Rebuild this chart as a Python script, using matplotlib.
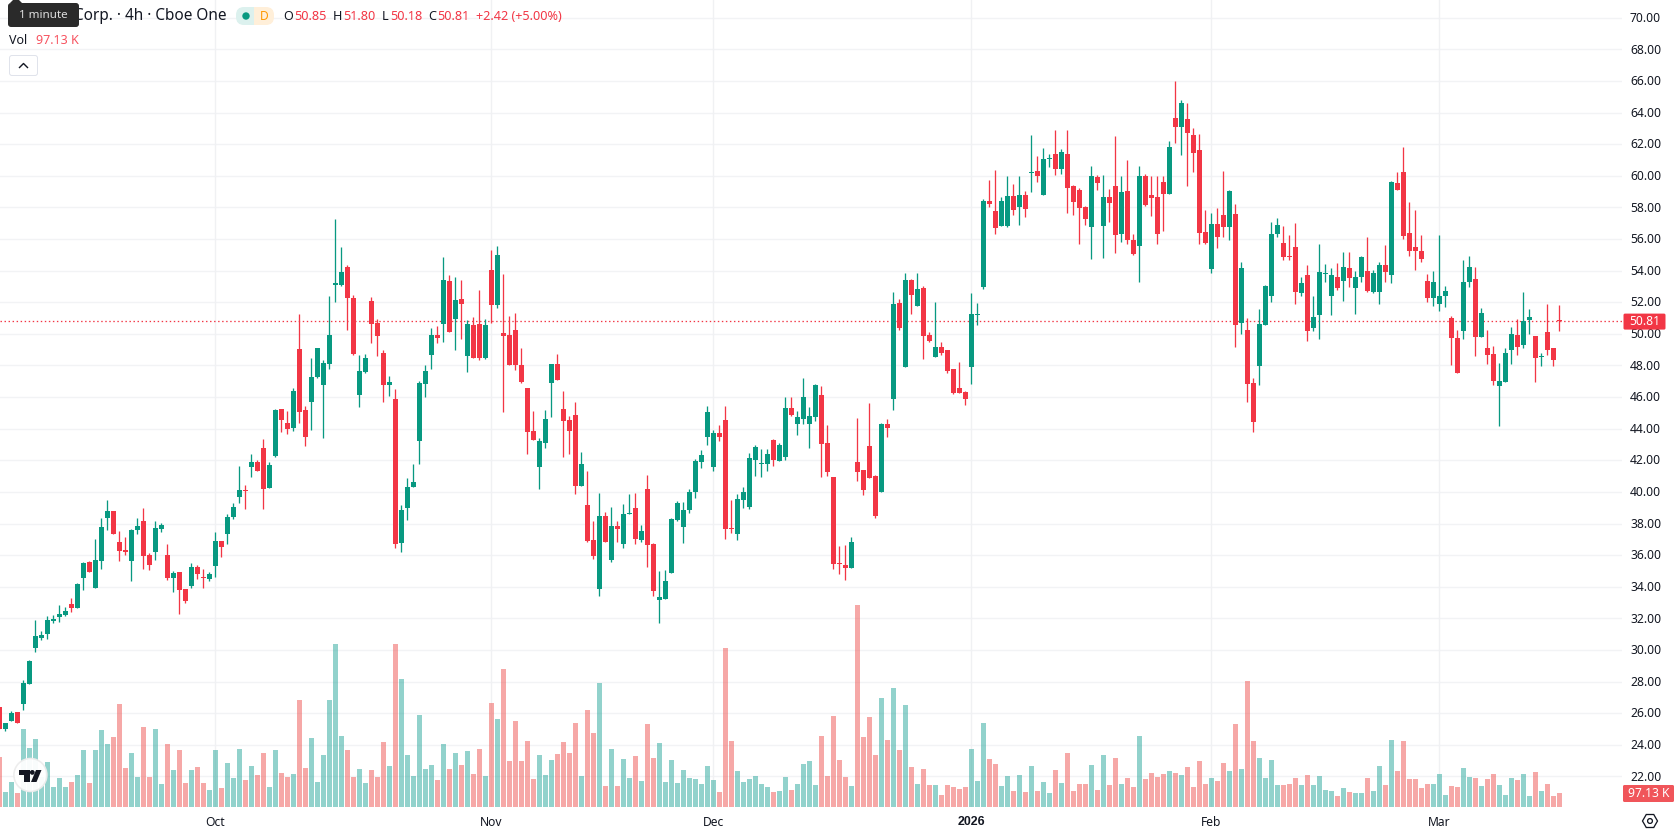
import numpy as np
import matplotlib
matplotlib.use('Agg')
import matplotlib.pyplot as plt
from matplotlib.patches import FancyBboxPatch, Circle, Polygon, RegularPolygon, Rectangle

opens = [26.38,24.99,25.50,26.06,26.58,27.85,30.13,30.74,31.01,31.83,
32.07,32.21,32.91,32.66,34.56,35.55,33.92,35.62,38.36,38.79,
36.82,36.32,35.62,37.59,38.15,36.0,36.18,37.66,36.0,34.56,
34.92,33.86,34.04,35.24,34.6,34.49,35.31,36.89,37.34,38.40,
39.67,40.12,41.57,41.88,42.79,40.26,42.27,45.25,44.37,44.05,
49.05,45.18,45.68,47.26,46.77,48.10,53.12,53.09,54.23,52.28,
46.13,47.56,52.08,50.70,48.80,46.77,45.88,36.77,38.99,40.30,
43.21,46.82,48.65,49.92,50.62,53.34,50.93,52.2,48.59,50.55,
50.62,48.46,54.03,51.82,50.05,49.92,50.24,48.02,46.56,43.84,
41.57,43.08,46.88,48.08,45.24,44.54,44.86,40.36,39.16,36.95,
33.84,38.46,35.68,37.83,36.69,38.59,38.97,36.95,40.17,36.69,
33.15,33.21,34.86,38.21,37.77,38.84,39.98,41.88,43.46,41.57,
43.72,44.54,37.70,37.32,39.48,39.03,42.01,41.75,41.75,43.27,
41.94,42.2,45.3,44.29,44.6,44.29,44.73,46.15,43.11,40.96,
35.52,35.39,35.2,41.91,41.4,42.92,41.02,40.01,44.31,45.9,
51.97,47.92,53.43,51.78,52.92,49.95,48.55,49.19,48.99,47.79,
46.59,46.34,47.92,51.21,52.98,58.43,57.79,56.84,56.84,58.74,
58.05,58.81,60.2,60.32,58.81,61.08,61.4,60.45,61.4,59.38,
59.12,58.05,56.78,59.95,56.84,58.68,59.38,56.34,59.06,55.96,
55.58,60.0,58.81,58.68,59.63,58.87,63.68,63.11,63.62,62.6,
61.65,56.46,54.12,56.97,57.52,56.76,57.58,50.69,50.24,46.89,
47.96,50.56,52.39,56.32,55.75,54.93,55.5,52.58,53.72,50.37,
51.19,53.79,52.39,53.6,53.34,54.17,52.9,53.6,53.98,52.65,
52.65,54.36,53.72,59.55,60.24,56.38,55.5,55.24,53.34,52.27,
51.89,52.39,51.0,49.74,50.18,53.28,53.47,49.8,49.1,48.72,
46.7,46.95,48.98,49.93,49.29,50.88,49.86,48.53,50.12,49.1,50.85]

closes = [25.0,25.36,25.99,25.38,27.91,29.29,30.87,30.94,31.89,31.96,
32.28,32.46,32.66,34.18,35.51,34.92,35.69,37.77,38.79,37.34,
36.25,36.18,37.59,37.84,35.94,35.37,37.72,37.91,34.56,34.88,
33.79,33.09,35.24,34.81,34.56,34.81,36.89,36.5,38.40,39.04,
40.12,40.05,41.88,41.32,40.19,41.70,45.18,44.55,43.99,46.38,
45.05,43.47,47.26,49.12,48.17,49.93,53.16,53.91,52.28,48.73,
47.65,48.48,50.63,49.86,46.77,46.95,36.71,38.85,40.30,40.62,
46.88,47.64,49.92,49.73,53.40,50.11,52.13,51.88,50.62,48.46,
48.46,50.55,51.82,54.98,49.86,48.02,48.02,46.95,43.78,43.27,
43.21,44.60,48.08,47.07,44.48,43.84,40.36,41.75,36.88,35.93,
38.46,36.82,37.83,37.64,38.59,38.65,37.01,37.51,36.63,33.72,
33.34,34.35,38.27,39.29,38.84,39.98,41.94,42.32,45.05,43.72,
43.46,37.64,37.64,39.54,39.98,42.13,42.83,41.82,42.39,42.01,
42.96,45.3,44.86,44.73,46.0,44.79,46.75,43.05,41.27,35.45,
35.45,35.2,36.84,41.27,40.13,40.89,38.49,44.31,44.06,51.91,
50.39,53.43,52.48,52.86,49.88,49.57,49.19,48.81,47.67,46.27,
46.27,45.89,51.27,51.27,58.43,58.24,56.72,58.43,58.74,57.86,
58.81,57.92,60.26,60.01,61.08,61.15,60.45,61.53,59.25,58.36,
57.98,57.29,60.0,59.57,58.68,58.3,56.27,59.0,55.96,55.07,
60.0,58.17,58.62,56.34,58.87,61.84,63.11,64.63,62.73,61.46,
56.4,55.77,56.97,56.15,56.76,59.04,50.56,54.17,46.83,44.42,
50.62,53.03,56.32,56.89,54.86,54.86,52.65,53.22,50.18,51.07,
53.91,53.85,53.72,52.9,54.23,53.53,53.6,54.86,52.71,53.85,
54.36,53.91,59.61,59.1,56.19,55.24,55.24,54.74,52.27,53.28,
52.39,52.71,49.74,47.52,53.28,54.23,49.8,51.32,48.66,47.02,
47.02,48.79,49.99,49.17,50.81,51.07,48.47,48.6,48.98,48.34,50.81]

highs = [26.38,25.36,26.13,26.06,28.09,29.36,31.89,31.19,32.14,32.21,
32.84,32.70,33.29,34.24,35.55,35.62,37.02,38.36,39.49,38.79,
37.52,37.13,37.66,38.36,38.99,36.16,38.15,38.02,36.71,34.99,
34.92,33.86,35.49,35.37,35.12,34.92,37.45,36.89,38.58,39.28,
41.63,40.44,42.40,42.02,43.33,41.88,45.25,45.25,45.11,46.59,
51.24,45.43,48.48,49.12,48.35,52.39,57.28,55.49,54.36,52.46,
48.67,48.73,52.33,50.95,48.98,47.33,46.52,39.2,40.89,41.75,
47.0,48.02,50.36,50.49,54.86,53.72,53.59,53.40,50.87,51.06,
52.77,50.93,55.3,55.55,53.78,51.12,51.31,49.1,46.56,45.11,
43.40,45.17,48.08,48.72,46.37,44.79,45.68,42.51,41.31,38.15,
39.92,38.72,39.03,38.15,39.22,39.86,39.92,37.89,41.06,36.75,
34.98,35.05,38.34,39.41,39.35,40.17,42.07,42.64,45.43,43.91,
44.22,45.43,39.48,39.86,40.3,42.45,42.96,42.7,42.7,43.34,
43.08,46.0,46.0,45.11,47.2,45.36,46.82,46.72,44.25,40.96,
36.59,36.65,37.16,44.69,41.4,45.64,41.08,44.38,44.63,52.67,
52.22,53.87,53.49,53.87,53.05,50.14,52.03,49.5,48.99,47.79,
48.24,46.4,52.6,51.97,58.55,59.76,60.39,58.68,60.0,59.5,
60.0,59.06,62.6,61.27,61.78,61.4,62.92,61.72,62.92,59.44,
59.25,58.11,60.64,60.07,60.07,59.19,62.54,60.0,61.02,56.34,
60.64,60.14,60.0,60.0,60.0,62.22,66.02,64.82,64.63,63.05,
62.67,57.86,57.67,57.98,60.31,59.1,58.22,54.55,51.0,47.2,
51.57,53.09,57.08,57.33,56.83,56.26,57.02,53.6,54.36,52.39,
55.69,54.42,54.17,54.48,55.18,55.18,53.98,54.93,56.13,54.04,
54.55,55.62,59.67,60.24,61.83,58.34,57.84,56.26,53.79,53.98,
56.26,53.03,51.13,50.24,54.67,54.93,54.23,51.64,50.24,49.23,
48.15,49.1,50.43,50.94,52.65,51.57,49.86,48.79,51.89,49.1,51.80]

lows = [25.0,24.86,25.50,25.38,26.2,27.85,29.86,30.63,30.69,31.71,
31.76,32.14,32.39,32.66,33.79,34.92,33.92,35.12,37.59,37.34,
35.62,36.0,34.36,37.34,35.12,35.06,35.69,37.45,34.42,33.68,
32.28,32.97,33.92,34.49,33.92,34.36,34.6,35.87,36.71,38.29,
39.31,38.92,40.93,41.32,38.92,40.26,42.18,43.78,43.67,43.85,
44.37,42.9,43.92,47.22,43.44,47.78,52.01,53.03,50.25,48.67,
45.37,47.51,49.43,48.60,45.68,46.06,36.46,36.19,38.22,40.30,
41.75,45.99,47.77,49.41,49.48,50.11,48.97,49.67,47.58,48.46,
48.34,48.40,50.68,51.63,45.05,48.02,47.7,46.88,42.4,43.27,
40.17,42.77,44.73,47.07,42.2,42.4,39.86,40.36,36.82,35.74,
33.4,36.82,35.55,36.82,36.44,38.59,36.69,36.82,35.24,33.4,
31.69,33.21,34.86,38.15,36.75,38.65,39.6,41.5,42.96,41.31,
43.21,37.01,37.39,36.95,38.97,38.91,41.0,40.93,41.31,41.63,
41.94,42.01,44.79,43.59,44.29,42.77,44.48,40.96,41.02,35.13,
34.82,34.44,35.2,40.7,39.82,40.89,38.36,40.01,43.49,45.2,
50.26,47.92,51.27,51.78,48.43,49.5,48.55,48.68,47.54,46.21,
46.27,45.51,46.84,50.58,52.86,58.05,56.34,56.84,56.78,57.54,
56.91,57.41,58.99,59.63,58.81,60.58,60.07,60.14,57.67,57.54,
55.7,56.91,54.75,59.12,54.82,57.1,55.13,55.83,55.7,55.01,
53.3,58.11,57.48,55.7,56.53,58.87,62.1,61.34,59.38,60.26,
55.7,55.7,53.87,55.45,56.13,55.94,49.17,49.99,45.69,43.79,
46.76,50.56,52.01,56.13,54.67,54.67,51.89,52.39,49.55,50.18,
49.67,53.28,51.19,52.77,52.08,52.96,51.26,53.28,52.65,52.58,
51.89,53.28,53.22,59.1,56.0,54.93,54.04,54.55,52.01,51.76,
51.45,51.7,48.03,47.52,49.67,52.96,48.6,49.8,48.09,46.76,
44.17,46.95,48.09,48.66,49.1,49.99,46.95,47.96,48.66,47.96,50.18]

volumes = [347,104,173,97,541,409,472,210,312,139,201,139,173,222,395,167,395,534,437,486,
715,271,375,208,555,208,541,160,437,257,395,167,257,278,167,118,395,132,305,201,
402,187,284,222,375,139,395,236,208,229,742,271,479,173,361,742,1131,493,395,208,
264,167,257,208,451,284,1131,888,361,215,638,264,291,187,437,264,375,291,389,229,
402,215,722,611,957,319,597,319,458,194,361,222,326,368,
451,375,583,215,673,513,860,146,402,146,333,201,354,180,576,340,444,173,326,167,
257,201,194,160,284,187,104,1103,458,250,173,194,215,160,139,104,111,208,118,160,
298,319,153,493,215,631,326,208,146,1401,486,624,361,756,465,826,395,708,278,160,
264,153,153,83,153,139,125,139,402,180,583,333,298,146,215,111,222,104,284,111,
173,97,257,167,375,111,160,160,291,118,361,153,340,
160,201,139,493,194,236,208,229,250,236,222,278,139,319,160,201,180,305,250,576,
264,874,458,340,201,326,153,153,160,201,153,222,153,215,118,111,76,132,104,97,
97,201,111,284,153,465,250,458,194,194,132,160,160,229,83,146,139,271,208,201,
146,194,229,153,83,201,187,229,76,243,111,160,76,97.13]

price_ticks = list(range(22, 72, 2))
month_ticks = [36, 82, 119, 162, 202, 240]
month_labels = ['Oct', 'Nov', 'Dec', '2026', 'Feb', 'Mar']
last_close = closes[-1]
last_volume = volumes[-1]

GREEN = '#089981'
RED = '#F23645'
VOL_GREEN = '#26a69a'
VOL_RED = '#ef5350'
GRID = '#f2f3f5'
TEXT = '#131722'

plt.rcParams['font.family'] = ['Noto Sans', 'DejaVu Sans']

W, H = 1678, 835
PANE_W, PANE_H = 1622, 807
fig = plt.figure(figsize=(W / 100, H / 100), dpi=100, facecolor='white')
px = 0.72  # one screen pixel in points

# volume pane sits behind the candles and shares the same area
rect = [0, 1 - PANE_H / H, PANE_W / W, PANE_H / H]
axV = fig.add_axes(rect, zorder=1)
ax = fig.add_axes(rect, zorder=2)
ax.patch.set_alpha(0)
for a in (ax, axV):
    a.set_xlim(0.11, 270.44)
    a.set_xticks([])
    a.set_yticks([])
    for s in a.spines.values():
        s.set_visible(False)
ax.set_ylim(20.06, 71.13)
axV.set_ylim(0, 5597)

o = np.array(opens)
c = np.array(closes)
h = np.array(highs)
l = np.array(lows)
v = np.array(volumes)
x = np.arange(len(o))
up = c >= o

# grid is drawn on the lower axes so volume bars tint over it
for t in price_ticks:
    axV.axhline((t - 20.06) / (71.13 - 20.06) * 5597, color=GRID, lw=1.4 * px, zorder=0)
for t in month_ticks:
    axV.axvline(t, color='#f0f1f3', lw=1.4 * px, zorder=0)

axV.bar(x[up], v[up], width=5 / 6, color=VOL_GREEN, alpha=0.5, linewidth=0, zorder=1)
axV.bar(x[~up], v[~up], width=5 / 6, color=VOL_RED, alpha=0.5, linewidth=0, zorder=1)

colors = np.where(up, GREEN, RED)
ax.vlines(x, l, h, colors=colors, lw=1.3 * px, zorder=3)
min_body = 1.1 / 15.8
body_low = np.minimum(o, c)
body_h = np.maximum(np.abs(c - o), min_body)
ax.bar(x, body_h, bottom=body_low, width=5 / 6, color=colors, linewidth=0, zorder=4)

ax.axhline(last_close, color=RED, lw=1.3 * px, linestyle=(0, (1.1, 2.0)), zorder=2)

# overlay in screen pixels for the axis text and toolbar bits
ui = fig.add_axes([0, 0, 1, 1], zorder=5)
ui.set_xlim(0, W)
ui.set_ylim(H, 0)
ui.axis('off')
ui.patch.set_alpha(0)


def price_y(p):
    return 112.7 + (64 - p) * 15.8


for t in price_ticks:
    ui.text(1630, price_y(t) + 0.7, f'{t:.2f}', fontsize=8.7, color=TEXT, va='center', ha='left')

for t, lab in zip(month_ticks, month_labels):
    if lab == '2026':
        ui.text(-0.67 + 6 * t, 822, lab, fontsize=8.9, color=TEXT, va='center', ha='center',
                fontweight='bold', family='Liberation Sans')
    else:
        ui.text(-0.67 + 6 * t, 822, lab, fontsize=8.7, color=TEXT, va='center', ha='center')

# last price and last volume tags
y_last = price_y(last_close)
ui.add_patch(FancyBboxPatch((1623.5, y_last - 7.5), 42, 16, boxstyle='round,pad=0,rounding_size=1.5',
                            fc=RED, ec='none', zorder=3))
ui.text(1644.5, y_last + 0.5, f'{last_close:.2f}', fontsize=8.7, color='white', ha='center', va='center', zorder=4)
ui.add_patch(FancyBboxPatch((1623, 785), 51, 17, boxstyle='round,pad=0,rounding_size=1.5',
                            fc='#f0555a', ec='none', zorder=3))
ui.text(1648.5, 793.5, f'{last_volume:.2f} K', fontsize=8.7, color='white', ha='center', va='center', zorder=4)

# legend row
ui.text(74, 16, 'Corp. · 4h · Cboe One', fontsize=11.05, color=TEXT, va='center', ha='left')
ui.add_patch(Rectangle((245, 7), 10, 18, fc='#dcf1ee', ec='none'))
ui.add_patch(FancyBboxPatch((236, 7), 18, 18, boxstyle='round,pad=0,rounding_size=8', fc='#dcf1ee', ec='none'))
ui.add_patch(FancyBboxPatch((256, 7), 18, 18, boxstyle='round,pad=0,rounding_size=8', fc='#ffefd9', ec='none'))
ui.add_patch(Rectangle((254, 7), 10, 18, fc='#ffefd9', ec='none'))
ui.add_patch(Circle((246, 16), 3.7, fc=GREEN, ec='none'))
ui.text(264, 16, 'D', fontsize=8.7, color='#ff9800', fontweight='bold', ha='center', va='center')

ohlc_row = [('O', 283, TEXT), ('50.85', 294.6, RED), ('H', 332.5, TEXT), ('51.80', 343.6, RED),
            ('L', 381.5, TEXT), ('50.18', 390, RED), ('C', 428, TEXT), ('50.81', 437, RED),
            ('+2.42 (+5.00%)', 476, RED)]
for s, xp, col in ohlc_row:
    ui.text(xp, 16.5, s, fontsize=9.1, color=col, va='center', ha='left')

ui.text(9, 40.5, 'Vol', fontsize=9.0, color=TEXT, va='center', ha='left')
ui.text(36.5, 40.5, '97.13 K', fontsize=9.0, color='#f7525f', va='center', ha='left')

# collapse button
ui.add_patch(FancyBboxPatch((9.5, 55.5), 28, 20, boxstyle='round,pad=0,rounding_size=2.5',
                            fc='white', ec='#e0e3eb', lw=1 * px))
ui.plot([19.5, 23.5, 27.5], [67.5, 63.5, 67.5], color=TEXT, lw=1.4 * px)

# tooltip on top of the legend
ui.add_patch(FancyBboxPatch((8, 3), 71, 24, boxstyle='round,pad=0,rounding_size=3', fc='#2a2a2a', ec='none', zorder=6))
ui.add_patch(Polygon([[10, 3], [16, -3], [22, 3]], fc='#2a2a2a', ec='none', zorder=6))
ui.text(43.5, 15.5, '1 minute', fontsize=8.4, color='#dddddd', ha='center', va='center', zorder=7)

# logo badge
ui.add_patch(Circle((30.4, 775), 16.5, fc='white', ec='#ececec', lw=1.6 * px, zorder=6, alpha=0.95))
ui.add_patch(Polygon([[18.5, 770], [29.5, 770], [29.5, 782], [24, 782], [24, 775], [18.5, 775]],
                     fc='#131722', ec='none', zorder=7))
ui.add_patch(Circle((32.3, 772.4), 2.4, fc='#131722', ec='none', zorder=7))
ui.add_patch(Polygon([[36, 770], [41.5, 770], [36.5, 782], [31, 782]], fc='#131722', ec='none', zorder=7))

# settings hexagon, flat top
ui.add_patch(RegularPolygon((1650, 821), 6, radius=7.5, orientation=np.pi / 6,
                            fc='none', ec=TEXT, lw=1.3 * px))
ui.add_patch(Circle((1650, 821), 2.4, fc='none', ec=TEXT, lw=1.3 * px))

fig.savefig('out.png', dpi=100, facecolor='white')
